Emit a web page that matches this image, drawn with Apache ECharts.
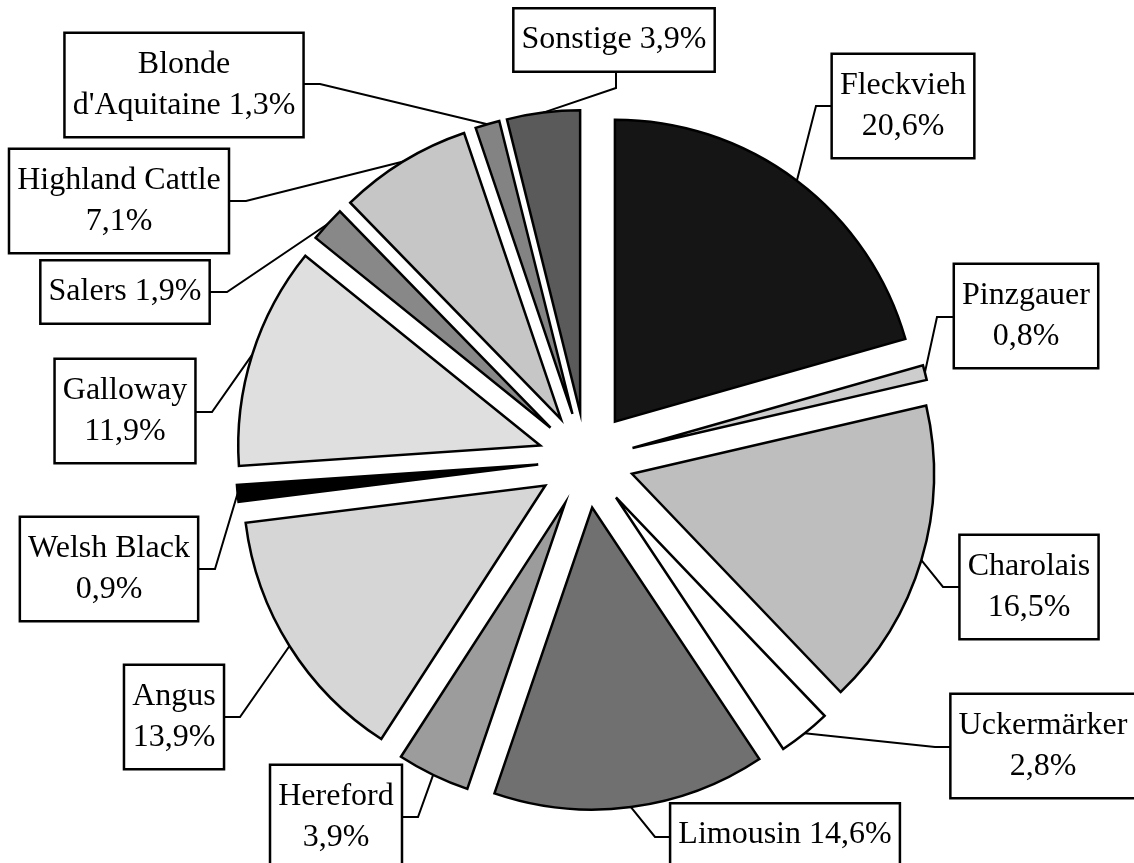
<!DOCTYPE html>
<html>
<head>
<meta charset="utf-8">
<script src="https://cdn.jsdelivr.net/npm/echarts@6/dist/echarts.min.js"></script>
<style>
  html, body { margin: 0; padding: 0; background: #fff; }
  #main { width: 1134px; height: 863px; }
</style>
</head>
<body>
<div id="main"></div>
<script>
  // Rassen, im Uhrzeigersinn ab 12 Uhr
  var breeds = ['Fleckvieh', 'Pinzgauer', 'Charolais', 'Uckermärker', 'Limousin', 'Hereford', 'Angus',
    'Welsh Black', 'Galloway', 'Salers', 'Highland Cattle', "Blonde d'Aquitaine", 'Sonstige'];
  var shares = [20.6, 0.8, 16.5, 2.8, 14.6, 3.9, 13.9, 0.9, 11.9, 1.9, 7.1, 1.3, 3.9];

  // Graustufen statt der Rastermuster
  var fills = ['#151515', '#cdcdcd', '#bebebe', '#ffffff', '#707070', '#9c9c9c', '#d6d6d6',
    '#000000', '#dfdfdf', '#888888', '#c6c6c6', '#838383', '#5a5a5a'];

  // Beschriftung: Umbruch im Namen, Wert in derselben Zeile oder darunter
  var labelNames = ['Fleckvieh', 'Pinzgauer', 'Charolais', 'Uckermärker', 'Limousin', 'Hereford', 'Angus',
    'Welsh Black', 'Galloway', 'Salers', 'Highland Cattle', "Blonde\nd'Aquitaine", 'Sonstige'];
  var oneLine = ['Limousin', 'Salers', "Blonde d'Aquitaine", 'Sonstige'];

  // Lage der Kästchen (Mitte) und Knick/Ende der Führungslinie
  var boxPos = [[903, 106], [1026, 316], [1029, 587], [1043, 746], [785, 835], [336, 817], [174, 717],
    [109, 569], [125, 411], [125, 292], [119, 201], [184, 85], [614, 40]];
  var leader = [
    [[816, 106], [833, 106]], [[937, 317], [955, 317]], [[943, 587], [961, 587]], [[935, 747], [953, 747]],
    [[655, 837], [673, 837]], [[418, 817], [400, 817]], [[240, 717], [223, 717]], [[215, 569], [197, 569]],
    [[212, 412], [194, 412]], [[227, 292], [208, 292]], [[246, 201], [228, 201]], [[320, 84], [302, 84]],
    [[616, 88], [616, 71]]
  ];

  var pieCenter = [586, 460];
  var pieRadius = 302;
  var explode = 48;

  function pct(v) {
    return v.toFixed(1).replace('.', ',') + '%';
  }

  var pieData = breeds.map(function (b, i) {
    return { name: b, value: shares[i], selected: true, itemStyle: { color: fills[i] } };
  });
  var labelData = breeds.map(function (b, i) {
    return { name: b, value: shares[i] };
  });

  var myChart = echarts.init(document.getElementById('main'));

  var option = {
    animation: false,
    backgroundColor: '#fff',
    series: [
      {
        // herausgezogene Segmente
        type: 'pie',
        center: pieCenter,
        radius: pieRadius,
        startAngle: 90,
        clockwise: true,
        selectedMode: 'multiple',
        selectedOffset: explode,
        itemStyle: { borderColor: '#000', borderWidth: 2.5, borderJoin: 'miter' },
        emphasis: { disabled: true },
        label: { show: false },
        labelLine: { show: false },
        data: pieData
      },
      {
        // nur Beschriftung; Radius = Radius + Versatz, damit die Linie am verschobenen Bogen ansetzt
        type: 'pie',
        center: pieCenter,
        radius: pieRadius + explode,
        startAngle: 90,
        clockwise: true,
        silent: true,
        avoidLabelOverlap: false,
        itemStyle: { color: 'rgba(0,0,0,0)', borderWidth: 0 },
        emphasis: { disabled: true },
        label: {
          show: true,
          position: 'outside',
          formatter: function (p) {
            var i = p.dataIndex;
            var sep = oneLine.indexOf(p.name) >= 0 ? ' ' : '\n';
            return labelNames[i] + sep + pct(p.value);
          },
          fontFamily: 'Liberation Serif',
          fontSize: 32,
          lineHeight: 41,
          color: '#000',
          align: 'center',
          backgroundColor: '#fff',
          borderColor: '#000',
          borderWidth: 2.5,
          padding: [10, 7, 10, 7]
        },
        labelLine: {
          show: true,
          length: 20,
          length2: 20,
          lineStyle: { color: '#000', width: 2 }
        },
        labelLayout: function (p) {
          var i = p.dataIndex;
          var pts = [p.labelLinePoints[0]].concat(leader[i]);
          return {
            x: boxPos[i][0],
            y: boxPos[i][1],
            align: 'center',
            verticalAlign: 'middle',
            labelLinePoints: pts
          };
        },
        data: labelData
      }
    ]
  };

  myChart.setOption(option);
</script>
</body>
</html>
